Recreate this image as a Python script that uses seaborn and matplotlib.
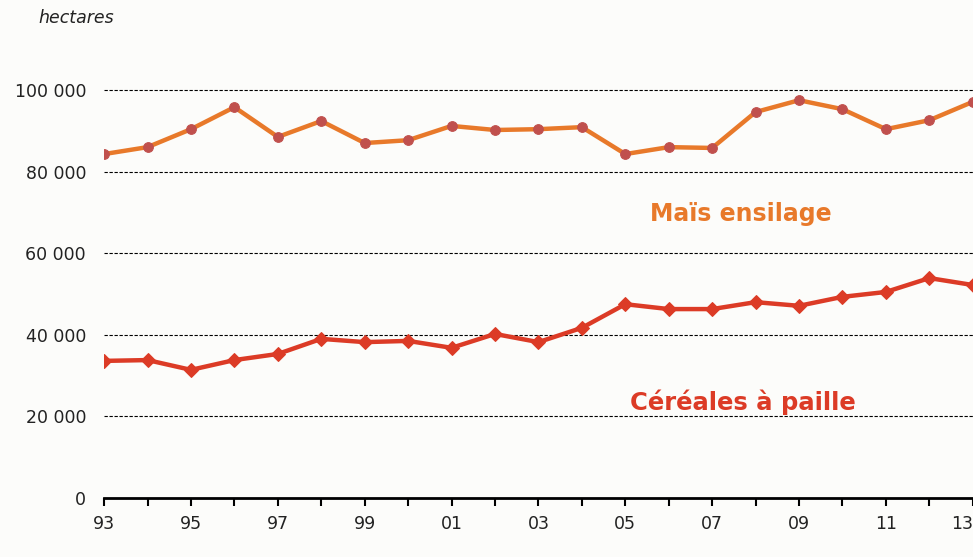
import numpy as np
import pandas as pd
import matplotlib
matplotlib.use("Agg")
import matplotlib.pyplot as plt
import seaborn as sns

# Surfaces (hectares), 1993-2013
years = list(range(1993, 2014))
mais_ensilage = [84300, 86000, 90400, 95800, 88500, 92400, 87000, 87700, 91200, 90200,
                 90400, 90900, 84300, 86000, 85800, 94600, 97500, 95300, 90400, 92600, 97100]
cereales_paille = [33600, 33800, 31400, 33800, 35300, 39000, 38200, 38500, 36800, 40200,
                   38200, 41700, 47500, 46300, 46300, 48000, 47100, 49300, 50500, 53900, 52200]
tick_years = list(range(1993, 2014, 2))
y_ticks = [0, 20000, 40000, 60000, 80000, 100000]

df = pd.DataFrame({"annee": years, "mais": mais_ensilage, "cereales": cereales_paille})

sns.set_style("white")
plt.rcParams["font.family"] = ["DejaVu Sans"]

bg = "#fcfcfa"
fig = plt.figure(figsize=(9.73, 5.57), dpi=100, facecolor=bg)
ax = fig.add_axes([0.107, 0.106, 0.895, 0.769])
ax.set_facecolor(bg)

# grid lines
for v in y_ticks[1:]:
    ax.axhline(v, color="black", lw=0.8, ls=(0, (3, 1.5)), zorder=1)

sns.lineplot(data=df, x="annee", y="mais", ax=ax, color="#e8792a", lw=3.2,
             marker="o", markersize=7, markerfacecolor="#c0504d",
             markeredgecolor="#c0504d", zorder=3)
sns.lineplot(data=df, x="annee", y="cereales", ax=ax, color="#dc3b26", lw=3.2,
             marker="D", markersize=7, markerfacecolor="#dc3b26",
             markeredgecolor="#dc3b26", zorder=3)

ax.set_xlim(1993, 2013.05)
ax.set_ylim(0, 105000)
ax.set_xlabel("")
ax.set_ylabel("")

ax.set_xticks(years, minor=True)
ax.set_xticks(tick_years)
ax.set_xticklabels([f"{y % 100:02d}" for y in tick_years], fontsize=12.5, color="#222222")
ax.get_xticklabels()[-1].set_ha("right")
ax.set_yticks(y_ticks)
ax.set_yticklabels([f"{v:,}".replace(",", " ") for v in y_ticks], fontsize=12.5, color="#222222")
ax.tick_params(axis="x", which="both", direction="out", length=6, width=1.5,
               color="black", bottom=True, pad=6)
ax.tick_params(axis="y", length=0, pad=13)

for s in ["top", "right", "left"]:
    ax.spines[s].set_visible(False)
ax.spines["bottom"].set_linewidth(2)
ax.spines["bottom"].set_color("black")
ax.spines["bottom"].set_zorder(4)

ax.text(2007.65, 69600, "Maïs ensilage", color="#e8792a", fontsize=17, fontweight="bold",
        ha="center", va="center")
ax.text(2007.7, 23500, "Céréales à paille", color="#dc3b26", fontsize=17.5, fontweight="bold",
        ha="center", va="center")

fig.text(38 / 973, 1 - 18 / 557, "hectares", fontsize=12.5, style="italic",
         color="#222222", ha="left", va="center")

fig.savefig("out.png", dpi=100, facecolor=bg)
